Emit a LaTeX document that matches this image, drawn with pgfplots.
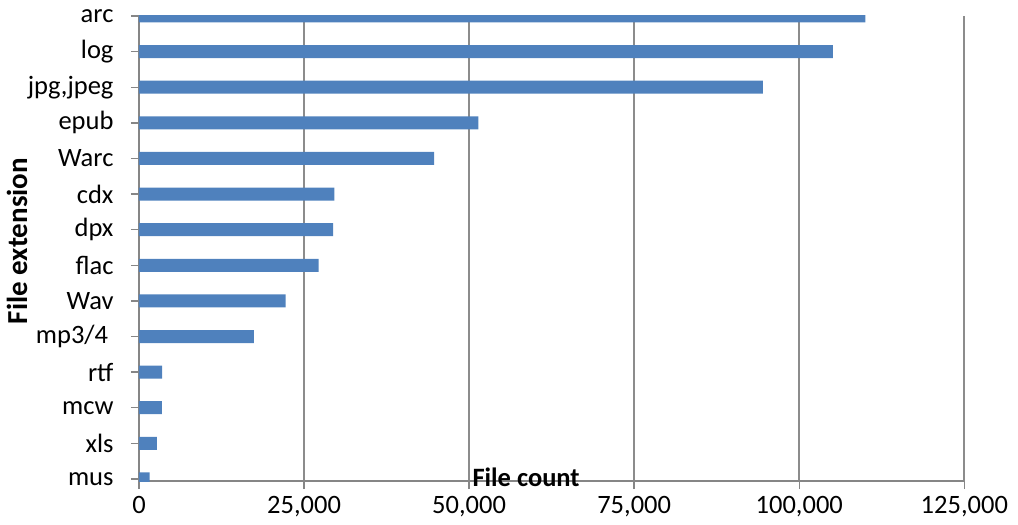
\documentclass[border=0pt]{standalone}
\usepackage{pgfplots}
\pgfplotsset{compat=1.18}
\usepackage{fontspec}
\setmainfont{Carlito}
\definecolor{barblue}{RGB}{79,129,189}
\definecolor{gridgrey}{RGB}{140,140,140}
\definecolor{axisgrey}{RGB}{134,134,134}

\newcommand{\chartfont}{\fontsize{26.5}{31}\selectfont}

\begin{document}
\begin{tikzpicture}
  % fix the page to the reference's frame (1 px = 1 pt), origin at the axis corner
  \path[use as bounding box] (-139pt,-43.9pt) rectangle (879pt,481.1pt);
  \begin{axis}
    [
    xbar,
    scale only axis,
    width=825.3pt,
    height=465.1pt,
    bar width=13pt,
    xmin=0, xmax=125000,
    ymin=-0.06, ymax=13,
    clip=true,
    axis lines*=left,
    axis line style={axisgrey, line width=1.4pt},
    xtick={0,25000,50000,75000,100000,125000},
    ytick={0,...,13},
    yticklabels={mus,xls,mcw,rtf,mp3/4\kern0.2em,Wav,flac,dpx,cdx,Warc,epub,{jpg,jpeg},log,arc},
    scaled x ticks=false,
    /pgf/number format/fixed,
    /pgf/number format/1000 sep={,},
    /pgf/number format/assume math mode=true,
    tick align=outside,
    major tick length=8pt,
    tick style={axisgrey, line width=1.4pt},
    tick label style={font=\chartfont, black},
    xticklabel style={yshift=-4pt},
    yticklabel style={xshift=-14pt},
    xmajorgrids,
    ymajorgrids=false,
    grid style={gridgrey, line width=1.8pt},
    xlabel={File count},
    ylabel={File extension},
    label style={font=\bfseries\chartfont, black},
    xlabel style={at={(axis description cs:0.469,0)}, anchor=center, yshift=3.6pt},
    ylabel style={at={(axis description cs:-0.1478,0.516)}, anchor=center,
      font=\bfseries\fontsize{29}{34}\selectfont},
    ]
    \addplot[draw=none, fill=barblue] coordinates {
      (1600,0)
      (2700,1)
      (3450,2)
      (3500,3)
      (17400,4)
      (22200,5)
      (27200,6)
      (29400,7)
      (29600,8)
      (44700,9)
      (51400,10)
      (94500,11)
      (105100,12)
      (110000,13)
    };
  \end{axis}
\end{tikzpicture}
\end{document}
